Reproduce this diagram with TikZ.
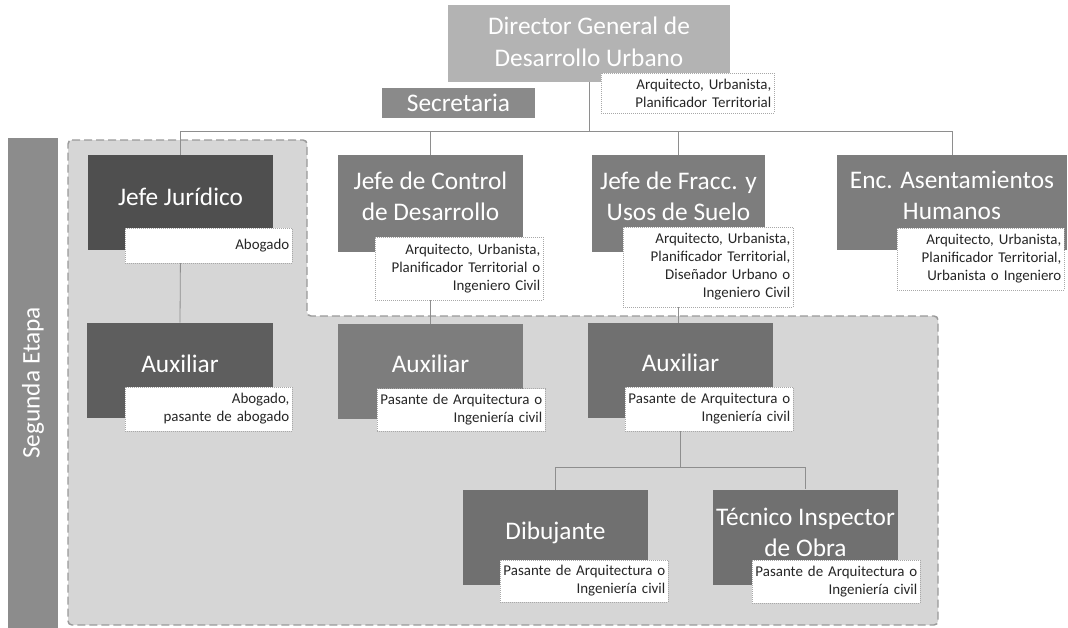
\documentclass[tikz,border=0pt]{standalone}
\usepackage{fontspec}
\setmainfont{Carlito}
\definecolor{cdir}{HTML}{B3B3B3}
\definecolor{csec}{HTML}{8A8A8A}
\definecolor{cjj}{HTML}{4F4F4F}
\definecolor{cmid}{HTML}{7D7D7D}
\definecolor{caux}{HTML}{5E5E5E}
\definecolor{cdark}{HTML}{707070}
\definecolor{cbar}{HTML}{8C8C8C}
\definecolor{cregion}{HTML}{D6D6D6}
\definecolor{cregionline}{HTML}{9A9A9A}
\definecolor{cline}{HTML}{8E8E8E}
\definecolor{csubtext}{HTML}{262626}
\definecolor{csubline}{HTML}{A8A8A8}
\pgfdeclarelayer{bg}
\pgfsetlayers{bg,main}
\begin{document}
\begin{tikzpicture}[x=0.75pt,y=-0.75pt,
  rolebox/.style={inner sep=0pt},
  roletext/.style={inner sep=0pt, align=center, text=white,
    font=\fontsize{19}{23}\selectfont},
  sublabel/.style={fill=white, draw=csubline, densely dotted, line width=0.5pt,
    inner xsep=2pt, inner ysep=1pt, align=right, text=csubtext,
    font=\fontsize{11.2}{13.5}\selectfont},
  conn/.style={draw=cline, line width=0.6pt},
  region/.style={fill=cregion, draw=cregionline, line width=1.1pt,
    dash pattern=on 6pt off 3pt, rounded corners=3pt}
]
\useasboundingbox (0,0) rectangle (1068,628);

% ---- role boxes ----
\node[rolebox, fill=cdir, minimum width=211.5pt, minimum height=57.75pt] (dir) at (589,43.5) {};
\node[roletext, font=\fontsize{19}{24}\selectfont] (dirt) at (589,42) {Director General de\\Desarrollo Urbano};
\node[rolebox, fill=csec, minimum width=114.75pt, minimum height=22.5pt] (sec) at (458.5,103) {};
\node[roletext] (sect) at (458.5,103) {Secretaria};
\node[rolebox, fill=cjj, minimum width=138.75pt, minimum height=71.25pt] (jj) at (180.5,202.5) {};
\node[roletext] (jjt) at (180.5,197) {Jefe Jurídico};
\node[rolebox, fill=cmid, minimum width=138.75pt, minimum height=72.75pt] (jc) at (430.5,203.5) {};
\node[roletext] (jct) at (430.5,196) {Jefe de Control\\de Desarrollo};
\node[rolebox, fill=cmid, minimum width=129.75pt, minimum height=72.75pt] (jf) at (678.5,203.5) {};
\node[roletext] (jft) at (678.5,196) {Jefe de Fracc. y\\Usos de Suelo};
\node[rolebox, fill=cmid, minimum width=172.5pt, minimum height=71.25pt] (en) at (952,202.5) {};
\node[roletext] (ent) at (952,195.5) {Enc. Asentamientos\\Humanos};
\node[rolebox, fill=caux, minimum width=139.5pt, minimum height=71.25pt] (a1) at (180,370.5) {};
\node[roletext] (a1t) at (180,363.5) {Auxiliar};
\node[rolebox, fill=cmid, minimum width=138.75pt, minimum height=71.25pt] (a2) at (430.5,371.5) {};
\node[roletext] (a2t) at (430.5,364) {Auxiliar};
\node[rolebox, fill=cdark, minimum width=138.75pt, minimum height=71.25pt] (a3) at (680.5,370.5) {};
\node[roletext] (a3t) at (680.5,363) {Auxiliar};
\node[rolebox, fill=cdark, minimum width=138.75pt, minimum height=71.25pt] (d) at (555.5,537.5) {};
\node[roletext] (dt) at (555.5,533) {Dibujante};
\node[rolebox, fill=cdark, minimum width=138.75pt, minimum height=71.25pt] (t) at (805.5,537) {};
\node[roletext] (tt) at (805.5,532.5) {Técnico Inspector\\de Obra};

% ---- vertical stage bar ----
\node[roletext, fill=cbar, rotate=90, minimum width=367.5pt, minimum height=37.5pt] (stage) at (33,383) {Segunda Etapa};

% ---- sub labels ----
\node[sublabel, text width=125.75pt, minimum height=30pt] (dirs) at (687.5,93) {Arquitecto, Urbanista,\\Planificador Territorial};
\node[sublabel, text width=121.25pt, minimum height=26.25pt] (jjs) at (208.5,245.5) {Abogado};
\node[sublabel, text width=122pt, minimum height=47.25pt] (jcs) at (459,268.5) {Arquitecto, Urbanista,\\Planificador Territorial o\\Ingeniero Civil};
\node[sublabel, text width=123.5pt, minimum height=60pt] (jfs) at (708,267) {Arquitecto, Urbanista,\\Planificador Territorial,\\Diseñador Urbano o\\Ingeniero Civil};
\node[sublabel, text width=121.25pt, minimum height=46.5pt] (ens) at (980.5,259) {Arquitecto, Urbanista,\\Planificador Territorial,\\Urbanista o Ingeniero};
\node[sublabel, text width=121.25pt, minimum height=33pt] (a1s) at (208.5,409) {Abogado,\\pasante de abogado};
\node[sublabel, text width=122pt, minimum height=32pt] (a2s) at (461,410) {Pasante de Arquitectura o\\Ingeniería civil};
\node[sublabel, text width=122pt, minimum height=33pt] (a3s) at (709,409) {Pasante de Arquitectura o\\Ingeniería civil};
\node[sublabel, text width=122pt, minimum height=31.5pt] (ds) at (584,581) {Pasante de Arquitectura o\\Ingeniería civil};
\node[sublabel, text width=122pt, minimum height=32.25pt] (ts) at (836,581.5) {Pasante de Arquitectura o\\Ingeniería civil};

\coordinate (bus) at (589,131);
\coordinate (bus2) at (680.5,467);

\begin{pgfonlayer}{bg}
  \path[region] (68,140) -- (307,140) -- (307,316) -- (938,316) -- (938,625) -- (68,625) -- cycle;
  \draw[conn] (dir.south) -- (bus);
  \draw[conn] (jj.north) -- (jj.north |- bus) -- (en.north |- bus) -- (en.north);
  \draw[conn] (jc.north) -- (jc.north |- bus);
  \draw[conn] (jf.north) -- (jf.north |- bus);
  \draw[conn] (jj.south) -- (a1.north);
  \draw[conn] (jc.south) -- (a2.north);
  \draw[conn] (a3.north -| jf.south) -- (jf.south);
  \draw[conn] (a3.south) -- (bus2);
  \draw[conn] (d.north) -- (d.north |- bus2) -- (t.north |- bus2) -- (t.north);
\end{pgfonlayer}
\end{tikzpicture}
\end{document}
